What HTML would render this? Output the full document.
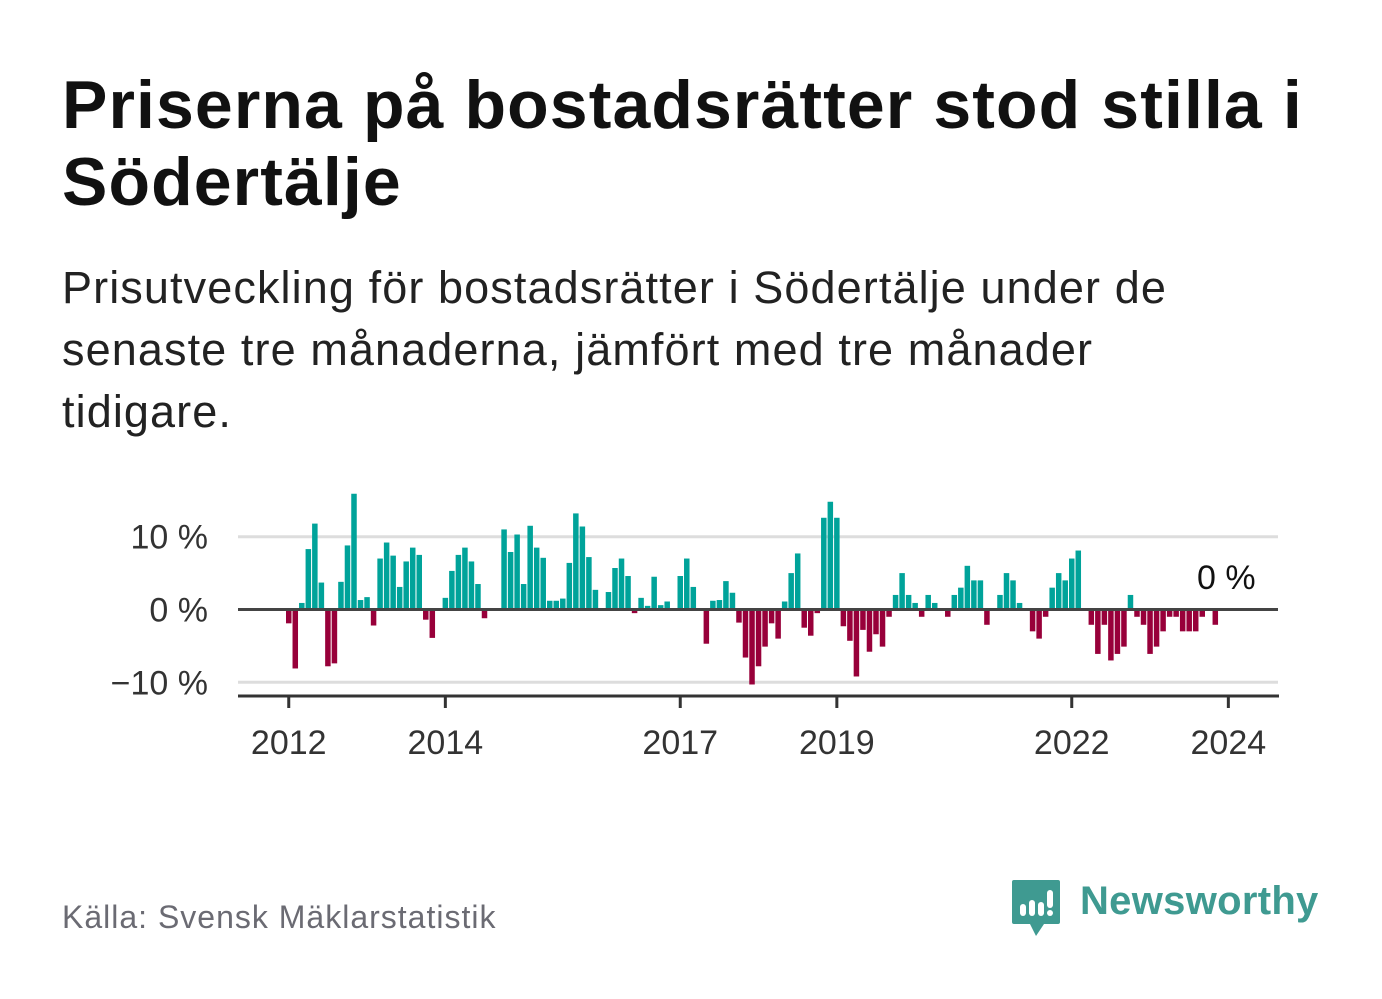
<!DOCTYPE html>
<html><head><meta charset="utf-8">
<style>
body{margin:0;width:1382px;height:999px;background:#fff;overflow:hidden;font-family:"Liberation Sans",sans-serif;position:relative}
#title{position:absolute;left:62px;top:67px;width:1320px;font-size:68px;font-weight:bold;line-height:77px;color:#111;margin:0;letter-spacing:1.1px}
#subtitle{position:absolute;left:62px;top:257px;width:1180px;font-size:45px;line-height:62px;color:#222;margin:0;letter-spacing:1.1px}
#source{position:absolute;left:62px;top:899px;font-size:32px;color:#6b6b73;letter-spacing:1px}
#logo{position:absolute;left:1010px;top:878px}
#logo-text{position:absolute;left:1080px;top:879px;font-size:40px;color:#3f9a91;font-weight:bold;letter-spacing:0.3px}
svg{position:absolute;left:0;top:0}
</style></head><body>
<h1 id="title">Priserna på bostadsrätter stod stilla i Södertälje</h1>
<p id="subtitle">Prisutveckling för bostadsrätter i Södertälje under de senaste tre månaderna, jämfört med tre månader tidigare.</p>
<svg id="chart" width="1382" height="999"></svg>
<div id="source">Källa: Svensk Mäklarstatistik</div>
<svg id="logo" width="54" height="64">
<path d="M2 4 Q2 2 4 2 L48 2 Q50 2 50 4 L50 44 Q50 46 48 46 L34 46 L26 58 L20 46 L4 46 Q2 46 2 44 Z" fill="#3f9a91"/>
<rect x="10" y="26" width="6" height="12" rx="3" fill="#fff"/>
<rect x="19" y="22" width="6" height="16" rx="3" fill="#fff"/>
<rect x="28" y="24" width="6" height="14" rx="3" fill="#fff"/>
<rect x="37" y="12" width="6" height="18" rx="3" fill="#fff"/>
<circle cx="40" cy="35" r="3" fill="#fff"/>
</svg>
<div id="logo-text">Newsworthy</div>
<script>
const startYear = 2012;
const values = [
-1.9,-8.1,0.9,8.3,11.8,3.7,-7.8,-7.4,3.8,8.8,15.9,1.3,
1.7,-2.2,7.0,9.2,7.4,3.1,6.6,8.5,7.5,-1.4,-3.9,0,
1.6,5.3,7.5,8.5,6.6,3.5,-1.2,0,0,11.0,7.9,10.3,
3.5,11.5,8.5,7.1,1.2,1.2,1.5,6.4,13.2,11.4,7.2,2.7,
0,2.4,5.7,7.0,4.6,-0.5,1.6,0.5,4.5,0.6,1.1,0,
4.6,7.0,3.1,0,-4.7,1.2,1.3,3.9,2.3,-1.8,-6.6,-10.3,
-7.8,-5.1,-1.9,-4.0,1.1,5.0,7.7,-2.5,-3.6,-0.5,12.6,14.8,
12.6,-2.3,-4.3,-9.2,-2.8,-5.8,-3.4,-5.1,-1.0,2.0,5.0,2.0,
0.9,-1.0,2.0,0.9,0,-1.0,2.0,3.0,6.0,4.0,4.0,-2.1,
0,2.0,5.0,4.0,0.9,0,-3.0,-4.0,-1.0,3.0,5.0,4.0,
7.0,8.1,0,-2.1,-6.1,-2.1,-7.0,-6.1,-5.1,2.0,-1.0,-2.1,
-6.1,-5.1,-3.0,-1.0,-1.0,-3.0,-3.0,-3.0,-1.0,0,-2.1,0,
0];
const yTicks = [10, 0, -10];
const yTickLabels = ["10 %", "0 %", "\u221210 %"];
const xTickYears = [2012, 2014, 2017, 2019, 2022, 2024];
const lastLabel = "0 %";

const NS = "http://www.w3.org/2000/svg";
const svg = document.getElementById('chart');
const x0 = 286, monthW = 6.525, barW = 5.5;
const xScale = i => x0 + monthW * i;
const yScale = v => 609.5 - v * 7.28;
function mk(tag, attrs, parent) {
  const e = document.createElementNS(NS, tag);
  for (const k in attrs) e.setAttribute(k, attrs[k]);
  (parent || svg).appendChild(e);
  return e;
}
yTicks.forEach((t, k) => {
  if (t !== 0) {
    const g = mk('line', {x1: 238, x2: 1278, y1: yScale(t), y2: yScale(t), stroke: '#ddd', 'stroke-width': 3});
    
    
  }
  const lb = mk('text', {x: 208, y: yScale(t) + 12, 'text-anchor': 'end', 'font-size': 34, fill: '#333', 'font-family': 'Liberation Sans, sans-serif'});
  lb.textContent = yTickLabels[k];
  
  
});
values.forEach((v, i) => {
  if (v === 0) return;
  const y1 = yScale(Math.max(v, 0)), y2 = yScale(Math.min(v, 0));
  const r = mk('rect', {x: xScale(i), y: y1, width: barW, height: y2 - y1, fill: v > 0 ? '#00a39a' : '#98003a'});
  
  
});
const zl = mk('line', {x1: 238, x2: 1278, y1: yScale(0), y2: yScale(0), stroke: '#444', 'stroke-width': 3});


const ax = mk('line', {x1: 238, x2: 1279, y1: 696, y2: 696, stroke: '#333', 'stroke-width': 3});


xTickYears.forEach(yr => {
  const xc = xScale((yr - startYear) * 12) + barW / 2;
  const tk = mk('line', {x1: xc, x2: xc, y1: 696, y2: 708, stroke: '#333', 'stroke-width': 3});
  
  
  const t = mk('text', {x: xc, y: 754, 'text-anchor': 'middle', 'font-size': 34, fill: '#333', 'font-family': 'Liberation Sans, sans-serif'});
  t.textContent = yr;
  
  
});
const ll = mk('text', {x: xScale(values.length - 1) + 30, y: 589, 'text-anchor': 'end', 'font-size': 34, fill: '#111', 'font-family': 'Liberation Sans, sans-serif'});
ll.textContent = lastLabel;


</script>
</body></html>
